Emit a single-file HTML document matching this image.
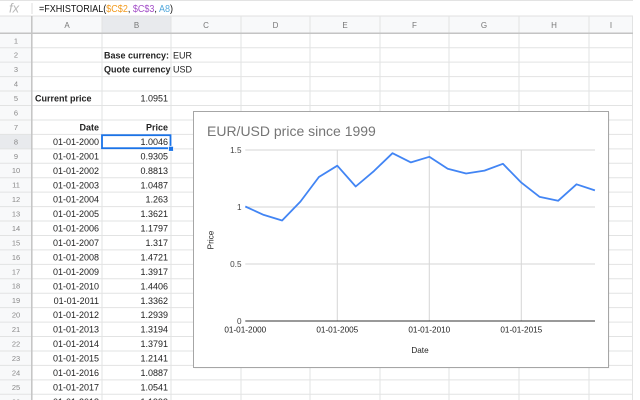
<!DOCTYPE html>
<html>
<head>
<meta charset="utf-8">
<style>
html,body{margin:0;padding:0;background:#fff;}
svg{display:block;}
text{font-family:"Liberation Sans",Arial,sans-serif;}
</style>
</head>
<body>
<svg width="640" height="400" viewBox="0 0 640 400" xmlns="http://www.w3.org/2000/svg">
  <rect x="0" y="0" width="640" height="400" fill="#fff"/>
  <!-- formula bar -->
  <line x1="0" y1="0.5" x2="633" y2="0.5" stroke="#e3e3e3"/>
  <line x1="0" y1="16" x2="633" y2="16" stroke="#e0e0e0"/>
  <text x="9" y="12.5" font-family="Liberation Serif,serif" font-style="italic" font-size="13" fill="#b8b8b8">fx</text>
  <line x1="32" y1="3" x2="32" y2="14" stroke="#dcdcdc"/>
  <text x="39" y="11.8" font-family="Liberation Mono,monospace" font-size="10.5" fill="#111" textLength="134" lengthAdjust="spacingAndGlyphs">=FXHISTORIAL(<tspan fill="#f29b1f">$C$2</tspan>, <tspan fill="#a450c8">$C$3</tspan>, <tspan fill="#55a9dc">A8</tspan>)</text>

  <!-- header backgrounds -->
  <rect x="0" y="16.5" width="633" height="16.8" fill="#f8f9fa"/>
  <rect x="0" y="33.3" width="32" height="367" fill="#f8f9fa"/>
  <rect x="102" y="16.5" width="69" height="16.8" fill="#e8eaed"/>
  <rect x="0" y="134.4" width="32" height="14.44" fill="#e8eaed"/>

  <!-- grid lines -->
  <g stroke="#e2e3e3" stroke-width="1">
    <line x1="102" y1="16" x2="102" y2="400"/>
    <line x1="171" y1="16" x2="171" y2="400"/>
    <line x1="241" y1="16" x2="241" y2="400"/>
    <line x1="310" y1="16" x2="310" y2="400"/>
    <line x1="380" y1="16" x2="380" y2="400"/>
    <line x1="449" y1="16" x2="449" y2="400"/>
    <line x1="519" y1="16" x2="519" y2="400"/>
    <line x1="589" y1="16" x2="589" y2="400"/>
    <line x1="632.5" y1="16" x2="632.5" y2="400"/>
    <line x1="0" y1="47.74" x2="633" y2="47.74"/>
    <line x1="0" y1="62.18" x2="633" y2="62.18"/>
    <line x1="0" y1="76.62" x2="633" y2="76.62"/>
    <line x1="0" y1="91.06" x2="633" y2="91.06"/>
    <line x1="0" y1="105.5" x2="633" y2="105.5"/>
    <line x1="0" y1="119.94" x2="633" y2="119.94"/>
    <line x1="0" y1="134.38" x2="633" y2="134.38"/>
    <line x1="0" y1="148.82" x2="633" y2="148.82"/>
    <line x1="0" y1="163.26" x2="633" y2="163.26"/>
    <line x1="0" y1="177.7" x2="633" y2="177.7"/>
    <line x1="0" y1="192.14" x2="633" y2="192.14"/>
    <line x1="0" y1="206.58" x2="633" y2="206.58"/>
    <line x1="0" y1="221.02" x2="633" y2="221.02"/>
    <line x1="0" y1="235.46" x2="633" y2="235.46"/>
    <line x1="0" y1="249.9" x2="633" y2="249.9"/>
    <line x1="0" y1="264.34" x2="633" y2="264.34"/>
    <line x1="0" y1="278.78" x2="633" y2="278.78"/>
    <line x1="0" y1="293.22" x2="633" y2="293.22"/>
    <line x1="0" y1="307.66" x2="633" y2="307.66"/>
    <line x1="0" y1="322.1" x2="633" y2="322.1"/>
    <line x1="0" y1="336.54" x2="633" y2="336.54"/>
    <line x1="0" y1="350.98" x2="633" y2="350.98"/>
    <line x1="0" y1="365.42" x2="633" y2="365.42"/>
    <line x1="0" y1="379.86" x2="633" y2="379.86"/>
    <line x1="0" y1="394.3" x2="633" y2="394.3"/>
  </g>
  <line x1="0" y1="33.3" x2="633" y2="33.3" stroke="#c4c4c4" stroke-width="1.5"/>
  <line x1="31.8" y1="16" x2="31.8" y2="400" stroke="#c4c4c4" stroke-width="1.5"/>

  <!-- column letters -->
  <g font-size="8" fill="#777" text-anchor="middle">
    <text x="67" y="28">A</text>
    <text x="136.5" y="28">B</text>
    <text x="206" y="28">C</text>
    <text x="275.5" y="28">D</text>
    <text x="345" y="28">E</text>
    <text x="414.5" y="28">F</text>
    <text x="484" y="28">G</text>
    <text x="554" y="28">H</text>
    <text x="611" y="28">I</text>
  </g>
  <!-- row numbers -->
  <g font-size="7.5" fill="#888" text-anchor="middle">
    <text x="16" y="43.3">1</text>
    <text x="16" y="57.7">2</text>
    <text x="16" y="72.1">3</text>
    <text x="16" y="86.6">4</text>
    <text x="16" y="101">5</text>
    <text x="16" y="115.5">6</text>
    <text x="16" y="129.9">7</text>
    <text x="16" y="144.3">8</text>
    <text x="16" y="158.8">9</text>
    <text x="16" y="173.2">10</text>
    <text x="16" y="187.7">11</text>
    <text x="16" y="202.1">12</text>
    <text x="16" y="216.5">13</text>
    <text x="16" y="231">14</text>
    <text x="16" y="245.4">15</text>
    <text x="16" y="259.9">16</text>
    <text x="16" y="274.3">17</text>
    <text x="16" y="288.7">18</text>
    <text x="16" y="303.2">19</text>
    <text x="16" y="317.6">20</text>
    <text x="16" y="332.1">21</text>
    <text x="16" y="346.5">22</text>
    <text x="16" y="360.9">23</text>
    <text x="16" y="375.4">24</text>
    <text x="16" y="389.8">25</text>
    <text x="16" y="404.3">26</text>
  </g>

  <!-- cell contents -->
  <g font-size="9" fill="#222">
    <text x="104" y="58.3" font-weight="bold">Base currency:</text>
    <text x="173" y="58.3">EUR</text>
    <text x="104" y="72.7" font-weight="bold">Quote currency</text>
    <text x="173" y="72.7">USD</text>
    <text x="35" y="101.6" font-weight="bold">Current price</text>
    <text x="168" y="101.6" text-anchor="end">1.0951</text>
    <text x="99" y="130.5" font-weight="bold" text-anchor="end">Date</text>
    <text x="168" y="130.5" font-weight="bold" text-anchor="end">Price</text>
  </g>
  <g font-size="9" fill="#222" text-anchor="end">
    <text x="99" y="144.9">01-01-2000</text><text x="168" y="144.9">1.0046</text>
    <text x="99" y="159.4">01-01-2001</text><text x="168" y="159.4">0.9305</text>
    <text x="99" y="173.8">01-01-2002</text><text x="168" y="173.8">0.8813</text>
    <text x="99" y="188.3">01-01-2003</text><text x="168" y="188.3">1.0487</text>
    <text x="99" y="202.7">01-01-2004</text><text x="168" y="202.7">1.263</text>
    <text x="99" y="217.1">01-01-2005</text><text x="168" y="217.1">1.3621</text>
    <text x="99" y="231.6">01-01-2006</text><text x="168" y="231.6">1.1797</text>
    <text x="99" y="246">01-01-2007</text><text x="168" y="246">1.317</text>
    <text x="99" y="260.5">01-01-2008</text><text x="168" y="260.5">1.4721</text>
    <text x="99" y="274.9">01-01-2009</text><text x="168" y="274.9">1.3917</text>
    <text x="99" y="289.3">01-01-2010</text><text x="168" y="289.3">1.4406</text>
    <text x="99" y="303.8">01-01-2011</text><text x="168" y="303.8">1.3362</text>
    <text x="99" y="318.2">01-01-2012</text><text x="168" y="318.2">1.2939</text>
    <text x="99" y="332.7">01-01-2013</text><text x="168" y="332.7">1.3194</text>
    <text x="99" y="347.1">01-01-2014</text><text x="168" y="347.1">1.3791</text>
    <text x="99" y="361.5">01-01-2015</text><text x="168" y="361.5">1.2141</text>
    <text x="99" y="376">01-01-2016</text><text x="168" y="376">1.0887</text>
    <text x="99" y="390.4">01-01-2017</text><text x="168" y="390.4">1.0541</text>
    <text x="99" y="404.9">01-01-2018</text><text x="168" y="404.9">1.1993</text>
  </g>

  <!-- selection -->
  <rect x="102" y="135.2" width="68.5" height="13" fill="none" stroke="#1a73e8" stroke-width="1.8"/>
  <rect x="168.5" y="146.3" width="5" height="5" fill="#1a73e8" stroke="#fff" stroke-width="0.8"/>

  <!-- chart -->
  <rect x="194.5" y="112.5" width="415" height="256" fill="#000" opacity="0.06"/>
  <rect x="193.5" y="111.5" width="415" height="256" fill="#fff" stroke="#a6a6a6" stroke-width="1"/>
  <text x="207" y="136" font-size="14" fill="#757575">EUR/USD price since 1999</text>

  <g stroke="#d6d6d6" stroke-width="1">
    <line x1="245.3" y1="150" x2="595" y2="150"/>
    <line x1="245.3" y1="207" x2="595" y2="207"/>
    <line x1="245.3" y1="264" x2="595" y2="264"/>
    <line x1="337.3" y1="150" x2="337.3" y2="321"/>
    <line x1="429.3" y1="150" x2="429.3" y2="321"/>
    <line x1="521.3" y1="150" x2="521.3" y2="321"/>
  </g>
  <line x1="245.3" y1="321" x2="595" y2="321" stroke="#333" stroke-width="1"/>

  <g font-size="8.2" fill="#444" text-anchor="end">
    <text x="241.5" y="153">1.5</text>
    <text x="241.5" y="210">1</text>
    <text x="241.5" y="267">0.5</text>
    <text x="241.5" y="324">0</text>
  </g>
  <text x="213.5" y="240" font-size="8.2" fill="#222" text-anchor="middle" transform="rotate(-90 213.5 240)">Price</text>
  <g font-size="8.2" fill="#222" text-anchor="middle">
    <text x="245.3" y="332.3">01-01-2000</text>
    <text x="337.3" y="332.3">01-01-2005</text>
    <text x="429.3" y="332.3">01-01-2010</text>
    <text x="521.3" y="332.3">01-01-2015</text>
    <text x="420" y="353">Date</text>
  </g>

  <polyline fill="none" stroke="#4285f4" stroke-width="1.8" stroke-linejoin="round"
    points="245.3,206.5 263.7,214.9 282.1,220.5 300.5,201.5 318.9,177.0 337.3,165.7 355.7,186.5 374.1,170.9 392.5,153.2 410.9,162.4 429.3,156.8 447.7,168.7 466.1,173.5 484.5,170.6 502.9,163.8 521.3,182.6 539.7,196.9 558.1,200.8 576.5,184.3 594.9,190.4"/>
</svg>
</body>
</html>
